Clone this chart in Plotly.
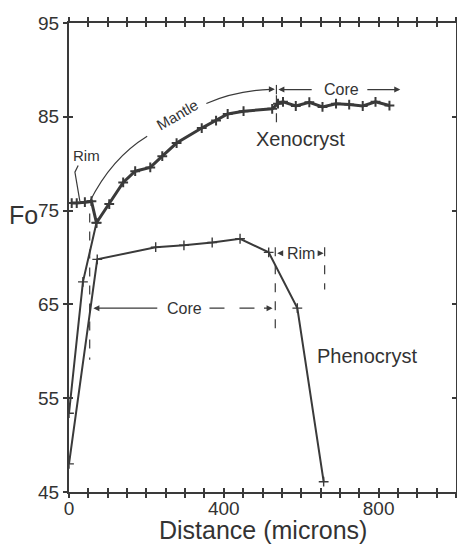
import plotly.graph_objects as go

# ---------------- data ----------------
xeno_x = [7, 20, 41, 58, 71, 104, 140, 171, 210, 241, 278, 343, 380, 410, 451,
          525, 540, 553, 586, 621, 655, 690, 724, 759, 792, 828]
xeno_y = [75.8, 75.8, 75.9, 76.0, 73.7, 75.7, 78.0, 79.2, 79.6, 80.8, 82.2, 83.8,
          84.6, 85.3, 85.6, 85.85, 86.4, 86.6, 86.15, 86.55, 86.05, 86.4, 86.3,
          86.15, 86.6, 86.2]

outer_x = [0, 36, 71]
outer_y = [53.4, 67.4, 73.7]

pheno_x = [0, 73, 224, 297, 370, 442, 516, 590, 658]
pheno_y = [48.0, 69.8, 71.1, 71.3, 71.6, 72.0, 70.55, 64.6, 46.1]

x_tick_vals = [0, 50, 100, 150, 200, 250, 300, 350, 400, 450, 500, 550, 600,
               650, 700, 750, 800, 850, 900, 950, 1000]
x_tick_labels = {0: "0", 400: "400", 800: "800"}
y_tick_vals = [45, 55, 65, 75, 85, 95]
y_tick_labels = ["45", "55", "65", "75", "85", "95"]

INK = "#3a3a3a"
FONT = "Liberation Sans, Arial, sans-serif"

fig = go.Figure()

fig.add_trace(go.Scatter(
    x=pheno_x, y=pheno_y, mode="lines+markers", name="Phenocryst",
    line=dict(color=INK, width=2),
    marker=dict(symbol="cross-thin", size=7, line=dict(color=INK, width=1.4)),
    showlegend=False, hoverinfo="skip"))

fig.add_trace(go.Scatter(
    x=outer_x, y=outer_y, mode="lines+markers", name="Xenocryst outer",
    line=dict(color=INK, width=2),
    marker=dict(symbol="cross-thin", size=7, line=dict(color=INK, width=1.4)),
    showlegend=False, hoverinfo="skip"))

fig.add_trace(go.Scatter(
    x=xeno_x, y=xeno_y, mode="lines+markers", name="Xenocryst",
    line=dict(color=INK, width=3),
    marker=dict(symbol="cross-thin", size=7, line=dict(color=INK, width=2)),
    showlegend=False, hoverinfo="skip"))

# invisible trace on overlay axes (for crossing ticks)
fig.add_trace(go.Scatter(
    x=pheno_x, y=pheno_y, xaxis="x2", yaxis="y2", mode="lines",
    line=dict(width=0, color="rgba(0,0,0,0)"), showlegend=False,
    hoverinfo="skip"))

tick_font = dict(family=FONT, size=19, color="#333")
x_text = [x_tick_labels.get(v, "") for v in x_tick_vals]

common_x = dict(range=[0, 1000], tickmode="array", tickvals=x_tick_vals,
                showgrid=False, zeroline=False, showline=True, linecolor=INK,
                linewidth=2, mirror="allticks", tickcolor=INK, tickwidth=1.5,
                ticklen=4, fixedrange=True)
common_y = dict(range=[45, 95], tickmode="array", tickvals=y_tick_vals,
                showgrid=False, zeroline=False, showline=True, linecolor=INK,
                linewidth=2, mirror="allticks", tickcolor=INK, tickwidth=1.5,
                ticklen=4, fixedrange=True)

# page has an 8px body margin, so the layout is offset by 8px
fig.update_layout(
    width=457, height=536,
    margin=dict(l=61, r=3, t=15, b=52),
    paper_bgcolor="white", plot_bgcolor="white",
    font=dict(family=FONT, color="#333"),
    xaxis=dict(**common_x, ticks="outside", ticktext=x_text, tickfont=tick_font,
               ticklabelstandoff=-6),
    yaxis=dict(**common_y, ticks="outside", ticktext=y_tick_labels,
               tickfont=tick_font, ticklabelstandoff=0),
    xaxis2=dict(**common_x, ticks="inside", overlaying="x", matches="x",
                showticklabels=False),
    yaxis2=dict(**common_y, ticks="inside", overlaying="y", matches="y",
                showticklabels=False),
)

# ---------------- annotation lines ----------------
thin = dict(color=INK, width=1.2)
dash = dict(color=INK, width=1.2, dash="dash")
shapes = [
    # Rim leader (xenocryst)
    dict(type="path", path="M 23.7,79.8 L 15.3,79.1 L 28,76.0", line=thin),
    # Mantle bracket curve (two parts around the label)
    dict(type="path", path="M 53.5,75.94 Q 109.6,80.59 202,82.93", line=thin),
    dict(type="path", path="M 354.9,86.42 Q 431.4,87.78 522,87.93", line=thin),
    # core boundary of xenocryst
    dict(type="line", x0=536, x1=536, y0=88.4, y1=87.4, line=thin),
    dict(type="line", x0=536, x1=536, y0=87.3, y1=83.8, line=dash),
    # phenocryst core limits
    dict(type="line", x0=53.5, x1=53.5, y0=74.7, y1=59.1, line=dash),
    dict(type="line", x0=533, x1=533, y0=71.1, y1=61.9, line=dash),
    dict(type="line", x0=363, x1=505, y0=64.6, y1=64.6,
         line=dict(color=INK, width=1.2, dash="longdash")),
    # phenocryst rim limit
    dict(type="line", x0=660.6, x1=660.6, y0=71.1, y1=66.6, line=dash),
]
for s in shapes:
    s.update(xref="x", yref="y", layer="above")
    fig.add_shape(**s)


def arrow(x, y, ax, ay):
    fig.add_annotation(x=x, y=y, ax=ax, ay=ay, xref="x", yref="y",
                       axref="x", ayref="y", text="", showarrow=True,
                       arrowhead=2, arrowsize=1, arrowwidth=1.2,
                       arrowcolor=INK)


def label(x, y, text, size, angle=0):
    fig.add_annotation(x=x, y=y, xref="x", yref="y", text=text,
                       showarrow=False, textangle=angle,
                       font=dict(family=FONT, size=size, color="#333"))


# xenocryst core
arrow(532, 87.93, 515, 87.93)
arrow(541, 87.9, 631, 87.9)
arrow(856, 87.9, 767, 87.9)
label(703, 87.9, "Core", 16)
# phenocryst core
arrow(63, 64.6, 232, 64.6)
arrow(526, 64.6, 500, 64.6)
label(298, 64.6, "Core", 16)
# phenocryst rim
arrow(538, 70.45, 556, 70.45)
arrow(658, 70.45, 640, 70.45)
label(600, 70.45, "Rim", 16)

label(46, 80.9, "Rim", 15)
label(281, 85.2, "Mantle", 15, angle=-30)
label(598, 82.6, "Xenocryst", 20)
label(771, 59.45, "Phenocryst", 20)

fig.add_annotation(x=0, y=0.5905, xref="paper", yref="paper", text="Fo",
                   showarrow=False, xanchor="center", yanchor="middle",
                   font=dict(family=FONT, size=25, color="#333"),
                   xshift=-46)

# x-axis title (placed precisely below the tick labels)
fig.add_annotation(x=0.5, y=0, xref="paper", yref="paper",
                   text="Distance (microns)", showarrow=False,
                   xanchor="center", yanchor="middle", yshift=-38,
                   font=dict(family=FONT, size=25, color="#333"))

fig.write_html("out.html")
